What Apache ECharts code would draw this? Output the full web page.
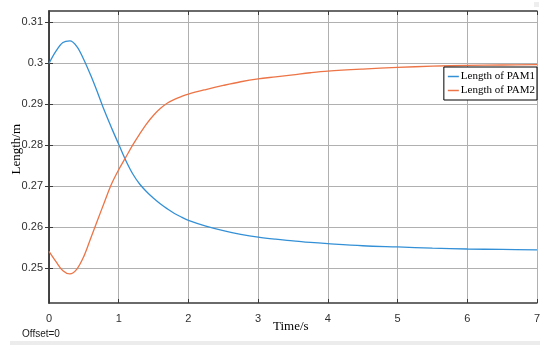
<!DOCTYPE html>
<html>
<head>
<meta charset="utf-8">
<script src="https://cdn.jsdelivr.net/npm/echarts@6/dist/echarts.min.js"></script>
<style>
html,body{margin:0;padding:0;background:#fff;}
#c{width:550px;height:354px;}
</style>
</head>
<body>
<div id="c"></div>
<script>
var timeS = [0,0.1,0.2,0.3,0.4,0.5,0.6,0.7,0.8,0.9,1.0,1.1,1.2,1.3,1.4,1.5,1.6,1.7,1.8,1.9,2.0,2.25,2.5,2.75,3.0,3.25,3.5,3.75,4.0,4.5,5.0,5.5,6.0,6.5,7.0];
var pam1 = [0.3000,0.3030,0.3051,0.3055,0.3041,0.3009,0.2970,0.2927,0.2882,0.2841,0.2802,0.2763,0.2730,0.2705,0.2686,0.2670,0.2656,0.2644,0.2633,0.2624,0.2616,0.2602,0.2591,0.2582,0.2575,0.2570,0.2566,0.2562,0.2559,0.2554,0.2551,0.2548,0.2546,0.2545,0.2544];
var pam2 = [0.2540,0.2515,0.2493,0.2485,0.2497,0.2528,0.2573,0.2618,0.2663,0.2706,0.2740,0.2770,0.2800,0.2827,0.2852,0.2873,0.2890,0.2903,0.2912,0.2919,0.2925,0.2936,0.2946,0.2955,0.2962,0.2967,0.2972,0.2977,0.2981,0.2986,0.2990,0.2993,0.2995,0.2996,0.2997];
var seriesNames = ['Length of PAM1','Length of PAM2'];
var yTicks = [0.25,0.26,0.27,0.28,0.29,0.30,0.31];

var frame = '#3a3a3a';
var gridC = '#b0b0b0';
var sans = 'Liberation Sans, Arial, sans-serif';
var serif = 'Liberation Serif, Times New Roman, serif';

function pairs(xs, ys){ return xs.map(function(x,i){ return [x, ys[i]]; }); }

var chart = echarts.init(document.getElementById('c'), null, {renderer:'canvas'});
chart.setOption({
  animation:false,
  backgroundColor:'#fff',
  grid: {left:49, top:11, width:488, height:292},
  legend: {
    orient:'vertical', right:13, top:67,
    padding:[3,2,3,4], itemGap:1,
    backgroundColor:'#fff', borderColor:'#000', borderWidth:1, borderRadius:0,
    icon:'rect', itemWidth:11, itemHeight:1.5,
    textStyle:{fontFamily:serif, fontSize:11, color:'#000', padding:[0,0,0,-3], lineHeight:13},
    data: seriesNames
  },
  xAxis: [{
    type:'value', min:0, max:7, interval:1,
    axisLine:{show:true, lineStyle:{color:frame, width:1.5}},
    axisTick:{show:true, inside:true, length:4, lineStyle:{color:frame}},
    axisLabel:{color:'#303030', fontFamily:sans, fontSize:11, margin:10},
    splitLine:{show:true, lineStyle:{color:gridC, width:1}}
  },{
    type:'value', position:'top', min:0, max:7, interval:1,
    axisLine:{show:true, lineStyle:{color:frame, width:1.5}},
    axisTick:{show:true, inside:true, length:4, lineStyle:{color:frame}},
    axisLabel:{show:false}, splitLine:{show:false}
  }],
  yAxis: [{
    type:'value', min:0.2414, max:0.3128,
    axisLine:{show:true, lineStyle:{color:frame, width:1.5}},
    axisTick:{show:true, inside:true, length:4, lineStyle:{color:frame}, customValues:yTicks},
    axisLabel:{color:'#303030', fontFamily:sans, fontSize:11, margin:6, customValues:yTicks},
    splitLine:{show:true, lineStyle:{color:gridC, width:1}}
  },{
    type:'value', position:'right', min:0.2414, max:0.3128,
    axisLine:{show:true, lineStyle:{color:frame, width:1.5}},
    axisTick:{show:true, inside:true, length:4, lineStyle:{color:frame}, customValues:yTicks},
    axisLabel:{show:false, customValues:yTicks}, splitLine:{show:false}
  }],
  series: [{
    name:seriesNames[0], type:'line', smooth:0.35, showSymbol:false,
    color:'#3490d6', lineStyle:{width:1.3, color:'#3490d6'},
    data: pairs(timeS, pam1)
  },{
    name:seriesNames[1], type:'line', smooth:0.35, showSymbol:false,
    color:'#ec7446', lineStyle:{width:1.3, color:'#ec7446'},
    data: pairs(timeS, pam2)
  }],
  graphic: [
    {type:'text', left:10, top:124, rotation:Math.PI/2, style:{text:'Length/m', font:'13px '+serif, fill:'#000'}},
    {type:'text', left:273, top:320, style:{text:'Time/s', font:'13px '+serif, fill:'#000'}},
    {type:'text', left:22, top:329, style:{text:'Offset=0', font:'10px '+sans, fill:'#202020'}},
    {type:'rect', shape:{x:10, y:341, width:530, height:4}, style:{fill:'#ececec'}},
    {type:'rect', shape:{x:534, y:2, width:5, height:5}, style:{fill:'#eeeeee'}}
  ]
});
</script>
</body>
</html>
